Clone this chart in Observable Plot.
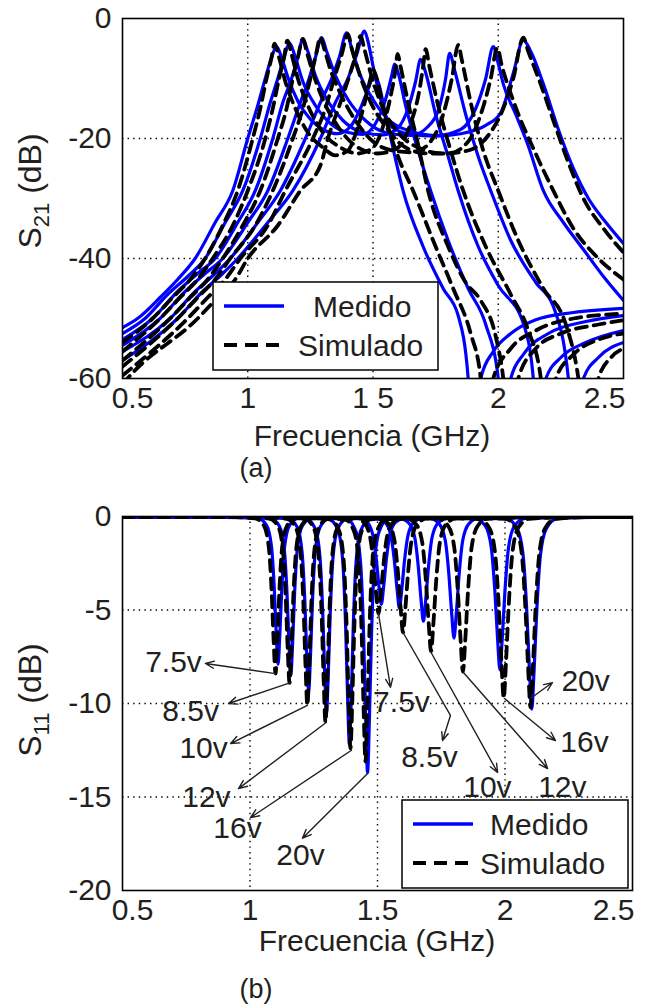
<!DOCTYPE html>
<html>
<head>
<meta charset="utf-8">
<script src="https://cdn.jsdelivr.net/npm/d3@7"></script>
<script src="https://cdn.jsdelivr.net/npm/@observablehq/plot@0.6"></script>
<style>
  html, body { margin: 0; padding: 0; background: #fff; }
  #wrap { position: relative; width: 655px; height: 1005px; background: #fff; overflow: hidden; }
  #wrap svg { position: absolute; left: 0; }
</style>
</head>
<body>
<div id="wrap"></div>
<script>
// ---------- ticks ----------
const FREQ_TICKS = [0.5, 1, 1.5, 2, 2.5];
const FREQ_LABELS_A = ["0.5", "1", "1 5", "2", "2.5"];
const FREQ_LABELS_B = ["0.5", "1", "1.5", "2", "2.5"];
const S21_TICKS = [-60, -40, -20, 0];
const S21_LABELS = ["-60", "-40", "-20", "0"];
const S11_TICKS = [-20, -15, -10, -5, 0];
const S11_LABELS = ["-20", "-15", "-10", "-5", "0"];
const VOLTAGES = ["7.5v", "8.5v", "10v", "12v", "16v", "20v"];

// ---------- (a) S21 medido ----------
const s21Medido75 = [[0.5,-51.5],[0.56,-50],[0.65,-46.5],[0.72,-43.5],[0.79,-40],[0.87,-34],[0.94,-28.7],[1.0,-20],[1.04,-14.5],[1.07,-10],[1.095,-6.5],[1.115,-4.7],[1.135,-6.5],[1.16,-9.8],[1.2,-13.8],[1.25,-16.8],[1.3,-18.5],[1.36,-19.2],[1.41,-18],[1.45,-15],[1.48,-11.8],[1.505,-9.5],[1.52,-10.5],[1.55,-16],[1.59,-23.5],[1.62,-28.7],[1.7,-38],[1.78,-45],[1.84,-49.5],[1.88,-60],[1.9,-75],[1.93,-60],[1.98,-55.5],[2.05,-52.5],[2.15,-50.2],[2.3,-49],[2.5,-48.3]];
const s21Medido85 = [[0.5,-52.5],[0.59,-50],[0.68,-46],[0.76,-43],[0.83,-40],[0.91,-34],[0.98,-28.7],[1.05,-20],[1.09,-14],[1.12,-10],[1.145,-6.5],[1.167,-4.1],[1.19,-6.5],[1.22,-10.5],[1.27,-14.5],[1.33,-17.5],[1.4,-19],[1.46,-19.3],[1.51,-17.5],[1.55,-13.5],[1.575,-9.5],[1.586,-7.6],[1.6,-9],[1.63,-14.5],[1.68,-22],[1.73,-28.7],[1.8,-37],[1.88,-45],[1.95,-51],[2.0,-60],[2.02,-75],[2.05,-60],[2.1,-56],[2.2,-52.5],[2.35,-50.5],[2.5,-49.5]];
const s21Medido10 = [[0.5,-53.5],[0.62,-50],[0.72,-45.5],[0.8,-42.5],[0.87,-40],[0.96,-34],[1.03,-28.7],[1.1,-20],[1.14,-14],[1.175,-10],[1.2,-6.5],[1.22,-3.4],[1.24,-5.5],[1.27,-9.5],[1.32,-13.8],[1.38,-17],[1.46,-19],[1.54,-19.4],[1.6,-18.2],[1.64,-15],[1.67,-10.5],[1.69,-6.8],[1.71,-9],[1.75,-16],[1.8,-23],[1.84,-28.7],[1.92,-38],[2.0,-44.5],[2.1,-50.8],[2.14,-60],[2.16,-75],[2.19,-60],[2.25,-56.5],[2.35,-54],[2.5,-52]];
const s21Medido12 = [[0.5,-54.5],[0.65,-50],[0.75,-45.5],[0.83,-42.5],[0.9,-40],[1.0,-34],[1.08,-28.7],[1.16,-20],[1.21,-14],[1.245,-10],[1.27,-6.5],[1.295,-3.2],[1.315,-5.5],[1.35,-9.5],[1.4,-13.5],[1.47,-17],[1.55,-19],[1.65,-19.5],[1.72,-18],[1.77,-14],[1.79,-10],[1.806,-5.8],[1.825,-8.5],[1.87,-16],[1.92,-23],[1.97,-28.7],[2.05,-37],[2.15,-44],[2.22,-48],[2.28,-60],[2.31,-75],[2.34,-60],[2.4,-56.5],[2.5,-54]];
const s21Medido16 = [[0.5,-55.5],[0.69,-50],[0.79,-45.5],[0.87,-42.5],[0.93,-40],[1.04,-34],[1.13,-28.7],[1.23,-20],[1.29,-14],[1.335,-10],[1.365,-6.5],[1.395,-2.4],[1.415,-5],[1.45,-9.5],[1.5,-13.5],[1.56,-16.8],[1.65,-18.8],[1.75,-19.5],[1.85,-18.5],[1.91,-15],[1.95,-10],[1.98,-4.7],[2.0,-7.5],[2.02,-10.9],[2.07,-16],[2.117,-20.9],[2.18,-28.7],[2.26,-34],[2.34,-38.5],[2.42,-43],[2.5,-47]];
const s21Medido20 = [[0.5,-57],[0.72,-50],[0.82,-45.5],[0.9,-42.5],[0.96,-40],[1.08,-34],[1.18,-28.7],[1.29,-20],[1.35,-14],[1.4,-10],[1.435,-6],[1.466,-2.1],[1.48,-3.8],[1.5,-7.9],[1.53,-13.4],[1.57,-17.9],[1.65,-19.3],[1.75,-19.6],[1.85,-19.2],[1.95,-17.8],[2.01,-15.7],[2.06,-9.1],[2.1,-3.6],[2.13,-5.5],[2.18,-10.9],[2.24,-18.5],[2.3,-25],[2.36,-30],[2.43,-34],[2.5,-37.5]];

// ---------- (a) S21 simulado ----------
const s21Simulado75 = [[0.5,-54],[0.62,-50],[0.7,-46.5],[0.77,-43.5],[0.83,-40],[0.9,-34.5],[0.96,-28.7],[1.02,-20],[1.05,-15],[1.075,-10],[1.095,-6.5],[1.107,-4.2],[1.125,-6.5],[1.15,-10.5],[1.19,-15],[1.24,-19],[1.3,-21.5],[1.35,-22.8],[1.4,-22],[1.44,-18],[1.47,-13.5],[1.49,-10],[1.5,-8.5],[1.515,-10],[1.55,-16.5],[1.6,-23],[1.66,-28.7],[1.74,-37],[1.82,-45],[1.89,-52.5],[1.93,-60],[1.95,-75],[1.98,-60],[2.05,-55],[2.15,-52],[2.3,-50],[2.5,-49.2]];
const s21Simulado85 = [[0.5,-55.5],[0.65,-50],[0.73,-46.5],[0.8,-43.5],[0.86,-40],[0.94,-34.5],[1.0,-28.7],[1.07,-20],[1.1,-15],[1.125,-10],[1.145,-6.5],[1.158,-3.7],[1.175,-6],[1.2,-10],[1.24,-14.5],[1.3,-19],[1.37,-21.5],[1.44,-22.5],[1.5,-21.5],[1.54,-18],[1.57,-13],[1.59,-8.5],[1.598,-5.9],[1.61,-8],[1.64,-14],[1.68,-21],[1.72,-28.7],[1.8,-38],[1.87,-44],[1.93,-47],[1.99,-53],[2.02,-60],[2.05,-75],[2.08,-60],[2.15,-55],[2.25,-52.5],[2.4,-51],[2.5,-50.3]];
const s21Simulado10 = [[0.5,-57],[0.69,-50],[0.77,-46.5],[0.84,-43.5],[0.9,-40],[0.98,-34.5],[1.05,-28.7],[1.12,-20],[1.155,-15],[1.18,-10],[1.2,-6.5],[1.22,-3.4],[1.235,-5.5],[1.26,-9],[1.3,-13.5],[1.36,-18],[1.44,-21.5],[1.52,-22.5],[1.6,-21.5],[1.65,-17.5],[1.685,-12],[1.7,-8],[1.71,-5.1],[1.725,-8],[1.76,-14.5],[1.81,-22],[1.86,-28.7],[1.95,-38],[2.05,-46],[2.12,-52],[2.17,-60],[2.2,-75],[2.23,-60],[2.3,-56],[2.4,-53.5],[2.5,-52.5]];
const s21Simulado12 = [[0.5,-58],[0.72,-50],[0.8,-46.5],[0.87,-43.5],[0.93,-40],[1.03,-34.5],[1.1,-28.7],[1.18,-20],[1.22,-15],[1.25,-10],[1.27,-6.5],[1.29,-3.2],[1.305,-5],[1.33,-8.5],[1.37,-12.5],[1.43,-17],[1.5,-20.5],[1.58,-22],[1.66,-22.3],[1.73,-20.5],[1.78,-16],[1.815,-10],[1.84,-4.4],[1.855,-7],[1.89,-14],[1.94,-22],[2.0,-28.7],[2.08,-37],[2.18,-45],[2.27,-51],[2.32,-60],[2.36,-75],[2.4,-60],[2.45,-56.5],[2.5,-55]];
const s21Simulado16 = [[0.5,-59.5],[0.76,-50],[0.84,-46.5],[0.91,-43.5],[0.97,-40],[1.08,-34.5],[1.15,-28.7],[1.26,-20],[1.31,-15],[1.345,-10],[1.375,-6],[1.4,-2.6],[1.415,-5],[1.44,-8.5],[1.48,-13],[1.55,-18],[1.63,-21.5],[1.72,-22.5],[1.8,-22.5],[1.88,-20.5],[1.93,-16],[1.97,-10],[1.996,-4.9],[2.015,-8],[2.06,-13.7],[2.157,-23.2],[2.22,-28.7],[2.3,-35],[2.4,-40],[2.5,-43.5]];
const s21Simulado20 = [[0.5,-61],[0.52,-60],[0.8,-50],[0.88,-46.5],[0.95,-43.5],[1.0,-40],[1.12,-34.5],[1.21,-28.7],[1.29,-24.5],[1.32,-20],[1.37,-14],[1.41,-9],[1.435,-5.5],[1.45,-2.9],[1.465,-5],[1.49,-9],[1.53,-14],[1.6,-19],[1.68,-21.5],[1.78,-22.5],[1.88,-22],[1.96,-19.5],[2.02,-15],[2.06,-10],[2.1,-3.2],[2.12,-5.5],[2.17,-11],[2.22,-17],[2.28,-24],[2.34,-30],[2.42,-35],[2.5,-39]];

// ---------- (b) S11 medido ----------
const s11Medido75 = [[0.5,-0.05],[0.9,-0.05],[1.03,-0.09],[1.065,-0.47],[1.084,-1.58],[1.095,-3.79],[1.103,-6.32],[1.11,-7.9],[1.117,-6.32],[1.125,-3.79],[1.136,-1.58],[1.155,-0.47],[1.19,-0.09],[1.3,-0.06],[1.415,-0.06],[1.457,-0.28],[1.481,-0.94],[1.495,-2.26],[1.506,-3.76],[1.515,-4.7],[1.524,-3.76],[1.535,-2.26],[1.549,-0.94],[1.573,-0.28],[1.615,-0.06],[2.0,-0.05],[2.5,-0.05]];
const s11Medido85 = [[0.5,-0.05],[0.95,-0.05],[1.08,-0.1],[1.115,-0.51],[1.134,-1.7],[1.145,-4.08],[1.153,-6.8],[1.16,-8.5],[1.167,-6.8],[1.175,-4.08],[1.186,-1.7],[1.205,-0.51],[1.24,-0.1],[1.36,-0.06],[1.486,-0.06],[1.528,-0.29],[1.552,-0.98],[1.566,-2.35],[1.577,-3.92],[1.586,-4.9],[1.595,-3.92],[1.606,-2.35],[1.62,-0.98],[1.644,-0.29],[1.686,-0.06],[2.1,-0.05],[2.5,-0.05]];
const s11Medido10 = [[0.5,-0.05],[1.0,-0.05],[1.15,-0.11],[1.185,-0.56],[1.204,-1.88],[1.215,-4.51],[1.223,-7.52],[1.23,-9.4],[1.237,-7.52],[1.245,-4.51],[1.256,-1.88],[1.275,-0.56],[1.31,-0.11],[1.45,-0.07],[1.58,-0.07],[1.622,-0.34],[1.646,-1.12],[1.66,-2.69],[1.671,-4.48],[1.68,-5.6],[1.689,-4.48],[1.7,-2.69],[1.714,-1.12],[1.738,-0.34],[1.78,-0.07],[2.2,-0.05],[2.5,-0.05]];
const s11Medido12 = [[0.5,-0.05],[1.05,-0.05],[1.22,-0.13],[1.255,-0.63],[1.274,-2.1],[1.285,-5.04],[1.293,-8.4],[1.3,-10.5],[1.307,-8.4],[1.315,-5.04],[1.326,-2.1],[1.345,-0.63],[1.38,-0.13],[1.54,-0.08],[1.7,-0.08],[1.742,-0.39],[1.766,-1.3],[1.78,-3.12],[1.791,-5.2],[1.8,-6.5],[1.809,-5.2],[1.82,-3.12],[1.834,-1.3],[1.858,-0.39],[1.9,-0.08],[2.25,-0.05],[2.5,-0.05]];
const s11Medido16 = [[0.5,-0.05],[1.15,-0.05],[1.31,-0.15],[1.345,-0.73],[1.364,-2.44],[1.375,-5.86],[1.383,-9.76],[1.39,-12.2],[1.397,-9.76],[1.405,-5.86],[1.416,-2.44],[1.435,-0.73],[1.47,-0.15],[1.68,-0.1],[1.88,-0.1],[1.922,-0.49],[1.946,-1.64],[1.96,-3.94],[1.971,-6.56],[1.98,-8.2],[1.989,-6.56],[2.0,-3.94],[2.014,-1.64],[2.038,-0.49],[2.08,-0.1],[2.3,-0.05],[2.5,-0.05]];
const s11Medido20 = [[0.5,-0.05],[1.22,-0.05],[1.381,-0.16],[1.416,-0.82],[1.435,-2.74],[1.446,-6.58],[1.454,-10.96],[1.461,-13.7],[1.468,-10.96],[1.476,-6.58],[1.487,-2.74],[1.506,-0.82],[1.541,-0.16],[1.78,-0.1],[2.005,-0.12],[2.047,-0.62],[2.071,-2.06],[2.085,-4.94],[2.096,-8.24],[2.105,-10.3],[2.114,-8.24],[2.125,-4.94],[2.139,-2.06],[2.163,-0.62],[2.205,-0.12],[2.35,-0.05],[2.5,-0.05]];

// ---------- (b) S11 simulado ----------
const s11Simulado75 = [[0.5,0],[0.9,-0.02],[1.02,-0.1],[1.055,-0.5],[1.074,-1.68],[1.085,-4.03],[1.093,-6.72],[1.1,-8.4],[1.107,-6.72],[1.115,-4.03],[1.126,-1.68],[1.145,-0.5],[1.18,-0.1],[1.3,-0.06],[1.404,-0.06],[1.446,-0.31],[1.47,-1.04],[1.484,-2.5],[1.495,-4.16],[1.504,-5.2],[1.513,-4.16],[1.524,-2.5],[1.538,-1.04],[1.562,-0.31],[1.604,-0.06],[2.0,-0.02],[2.5,0]];
const s11Simulado85 = [[0.5,0],[0.95,-0.02],[1.075,-0.11],[1.11,-0.53],[1.129,-1.78],[1.14,-4.27],[1.148,-7.12],[1.155,-8.9],[1.162,-7.12],[1.17,-4.27],[1.181,-1.78],[1.2,-0.53],[1.235,-0.11],[1.37,-0.07],[1.5,-0.07],[1.542,-0.37],[1.566,-1.24],[1.58,-2.98],[1.591,-4.96],[1.6,-6.2],[1.609,-4.96],[1.62,-2.98],[1.634,-1.24],[1.658,-0.37],[1.7,-0.07],[2.1,-0.02],[2.5,0]];
const s11Simulado10 = [[0.5,0],[1.0,-0.02],[1.145,-0.12],[1.18,-0.61],[1.199,-2.02],[1.21,-4.85],[1.218,-8.08],[1.225,-10.1],[1.232,-8.08],[1.24,-4.85],[1.251,-2.02],[1.27,-0.61],[1.305,-0.12],[1.46,-0.08],[1.61,-0.09],[1.652,-0.43],[1.676,-1.44],[1.69,-3.46],[1.701,-5.76],[1.71,-7.2],[1.719,-5.76],[1.73,-3.46],[1.744,-1.44],[1.768,-0.43],[1.81,-0.09],[2.2,-0.02],[2.5,0]];
const s11Simulado12 = [[0.5,0],[1.05,-0.02],[1.216,-0.13],[1.251,-0.66],[1.27,-2.2],[1.281,-5.28],[1.289,-8.8],[1.296,-11.0],[1.303,-8.8],[1.311,-5.28],[1.322,-2.2],[1.341,-0.66],[1.376,-0.13],[1.56,-0.09],[1.735,-0.1],[1.777,-0.5],[1.801,-1.66],[1.815,-3.98],[1.826,-6.64],[1.835,-8.3],[1.844,-6.64],[1.855,-3.98],[1.869,-1.66],[1.893,-0.5],[1.935,-0.1],[2.25,-0.02],[2.5,0]];
const s11Simulado16 = [[0.5,0],[1.15,-0.02],[1.314,-0.15],[1.349,-0.74],[1.368,-2.48],[1.379,-5.95],[1.387,-9.92],[1.394,-12.4],[1.401,-9.92],[1.409,-5.95],[1.42,-2.48],[1.439,-0.74],[1.474,-0.15],[1.68,-0.1],[1.895,-0.12],[1.937,-0.58],[1.961,-1.94],[1.975,-4.66],[1.986,-7.76],[1.995,-9.7],[2.004,-7.76],[2.015,-4.66],[2.029,-1.94],[2.053,-0.58],[2.095,-0.12],[2.3,-0.02],[2.5,0]];
const s11Simulado20 = [[0.5,0],[1.2,-0.02],[1.373,-0.16],[1.408,-0.79],[1.427,-2.62],[1.438,-6.29],[1.446,-10.48],[1.453,-13.1],[1.46,-10.48],[1.468,-6.29],[1.479,-2.62],[1.498,-0.79],[1.533,-0.16],[1.77,-0.1],[2.0,-0.12],[2.042,-0.61],[2.066,-2.04],[2.08,-4.9],[2.091,-8.16],[2.1,-10.2],[2.109,-8.16],[2.12,-4.9],[2.134,-2.04],[2.158,-0.61],[2.2,-0.12],[2.35,-0.02],[2.5,0]];

// ---------- (b) annotations: label, label pos, arrow tail (dip), arrow head ----------
const annText  = ["7.5v","8.5v","10v","12v","16v","20v","7.5v","8.5v","10v","12v","16v","20v"];
const annF     = [0.70, 0.767, 0.818, 0.829, 0.951, 1.198, 1.594, 1.704, 1.931, 2.225, 2.312, 2.316];
const annDb    = [-7.8, -10.4, -12.4, -15.0, -16.7, -18.1, -9.95, -12.9, -14.5, -14.5, -12.1, -8.8];
const tailF    = [1.10, 1.159, 1.225, 1.30, 1.398, 1.461, 1.504, 1.786, 1.708, 1.837, 1.998, 2.10];
const tailDb   = [-8.4, -8.88, -10.1, -11.0, -12.5, -13.74, -5.19, -10.64, -7.22, -8.34, -9.73, -9.73];
const headF    = [0.825, 0.916, 0.924, 0.955, 1.002, 1.206, 1.551, 1.755, 1.971, 2.167, 2.198, 2.186];
const headDb   = [-7.86, -10.0, -12.14, -14.55, -16.1, -17.2, -9.14, -11.98, -13.69, -13.48, -11.98, -8.88];
const leaderF  = [1.598, 1.786];
const leaderDb = [-6.15, -10.64];

// ---------- build tables ----------
function rows(list) {
  return list.flatMap((pts, k) => pts.map(([f, db]) => ({ f, db, v: VOLTAGES[k] })));
}
const s21Med = rows([s21Medido75, s21Medido85, s21Medido10, s21Medido12, s21Medido16, s21Medido20]);
const s21Sim = rows([s21Simulado75, s21Simulado85, s21Simulado10, s21Simulado12, s21Simulado16, s21Simulado20]);
const s11Med = rows([s11Medido75, s11Medido85, s11Medido10, s11Medido12, s11Medido16, s11Medido20]);
const s11Sim = rows([s11Simulado75, s11Simulado85, s11Simulado10, s11Simulado12, s11Simulado16, s11Simulado20]);
const ann = annText.map((t, i) => ({ t, f: annF[i], db: annDb[i], tf: tailF[i], tdb: tailDb[i], hf: headF[i], hdb: headDb[i] }));

const FONT = "'Liberation Sans', Arial, Helvetica, sans-serif";
const INK = "#231f20";
const BLUE = "#0000ff";
const DASH = "11,7";
const GRID = { stroke: "#000", strokeOpacity: 1, strokeWidth: 1.4, strokeDasharray: "1.4,4.2" };
const TICK_PAD_X = 8;

function lookup(ticks, labels) { return d => labels[ticks.indexOf(d)] ?? ""; }

function panel({ top, height, mt, mb, mr, yDomain, yTicks, yLabels, xLabels, med, sim, extra }) {
  const fmt = lookup(FREQ_TICKS, xLabels);
  const edgeLabel = (tick, anchor, dx) => Plot.text([tick], {
    x: d => d, text: fmt, frameAnchor: "bottom", lineAnchor: "top", textAnchor: anchor,
    dy: TICK_PAD_X, dx, fontSize: 30, fill: INK, fontFamily: FONT
  });
  const svg = Plot.plot({
    width: 655, height, marginLeft: 122, marginRight: mr, marginTop: mt, marginBottom: mb,
    style: { fontFamily: FONT, fontSize: "30px", color: INK, background: "transparent", overflow: "visible" },
    x: { domain: [0.5, 2.5], ticks: FREQ_TICKS.slice(1, -1), tickFormat: fmt, tickSize: 0, tickPadding: TICK_PAD_X, label: null },
    y: { domain: yDomain, ticks: yTicks, tickFormat: lookup(yTicks, yLabels), tickSize: 0, tickPadding: 11, label: null },
    marks: [
      Plot.ruleX(FREQ_TICKS.slice(1, -1), GRID),
      Plot.ruleY(yTicks.slice(1, -1), GRID),
      Plot.line(med, { x: "f", y: "db", z: "v", stroke: BLUE, strokeWidth: 3.2, curve: "monotone-x", clip: true }),
      Plot.line(sim, { x: "f", y: "db", z: "v", stroke: "#000", strokeWidth: 3.8, strokeDasharray: DASH, curve: "monotone-x", clip: true }),
      ...(extra || []),
      Plot.frame({ stroke: "#000", strokeWidth: 1.6 }),
      edgeLabel(FREQ_TICKS[0], "middle", 10),
      edgeLabel(FREQ_TICKS[FREQ_TICKS.length - 1], "end", 2)
    ]
  });
  svg.style.top = top + "px";
  return svg;
}

const wrap = document.getElementById("wrap");

// Panel (a)
const svgA = panel({
  top: 0, height: 480, mt: 18, mb: 102, mr: 32,
  yDomain: [-60, 0], yTicks: S21_TICKS, yLabels: S21_LABELS, xLabels: FREQ_LABELS_A,
  med: s21Med, sim: s21Sim
});
wrap.appendChild(svgA);

// Panel (b)
const svgB = panel({
  top: 480, height: 525, mt: 36, mb: 115, mr: 23,
  yDomain: [-20, 0], yTicks: S11_TICKS, yLabels: S11_LABELS, xLabels: FREQ_LABELS_B,
  med: s11Med, sim: s11Sim,
  extra: [
    Plot.link([0], { x1: () => leaderF[0], y1: () => leaderDb[0], x2: () => leaderF[1], y2: () => leaderDb[1], stroke: INK, strokeWidth: 1.4 }),
    Plot.arrow(ann, { x1: "tf", y1: "tdb", x2: "hf", y2: "hdb", stroke: INK, strokeWidth: 1.4, headLength: 10, headAngle: 45 }),
    Plot.text(ann, { x: "f", y: "db", text: "t", fontSize: 30, fill: INK, fontFamily: FONT })
  ]
});
wrap.appendChild(svgB);

// ---------- decorations (titles, legends) ----------
function decorate(svgEl, o) {
  const svg = d3.select(svgEl);
  // x label
  svg.append("text").attr("x", o.xlx).attr("y", o.xly).attr("text-anchor", "middle")
    .attr("font-family", FONT).attr("font-size", 30).attr("fill", INK).text("Frecuencia (GHz)");
  // caption
  svg.append("text").attr("x", 256).attr("y", o.capy).attr("text-anchor", "middle")
    .attr("font-family", FONT).attr("font-size", 27).attr("fill", INK).text(o.cap);
  // y label with subscript
  const t = svg.append("text").attr("transform", `translate(41,${o.ylc}) rotate(-90)`).attr("text-anchor", "middle")
    .attr("font-family", FONT).attr("font-size", 32).attr("fill", INK);
  t.append("tspan").text("S");
  t.append("tspan").attr("font-size", 22).attr("dy", 8).text(o.sub);
  t.append("tspan").attr("dy", -8).text("\u00a0(dB)");
  // legend
  const g = svg.append("g");
  g.append("rect").attr("x", o.lx).attr("y", o.ly).attr("width", o.lw).attr("height", o.lh)
    .attr("fill", "#fff").attr("stroke", "#000").attr("stroke-width", 1.5);
  g.append("line").attr("x1", o.lx + 11).attr("x2", o.lx + 71).attr("y1", o.ly + 24).attr("y2", o.ly + 24)
    .attr("stroke", BLUE).attr("stroke-width", 3.5);
  g.append("line").attr("x1", o.lx + 11).attr("x2", o.lx + 71).attr("y1", o.ly + 63).attr("y2", o.ly + 63)
    .attr("stroke", "#000").attr("stroke-width", 4).attr("stroke-dasharray", "13,8");
  g.append("text").attr("x", o.mx).attr("y", o.ly + 35).attr("text-anchor", "start")
    .attr("font-family", FONT).attr("font-size", 30).attr("fill", INK).text("Medido");
  g.append("text").attr("x", o.sx).attr("y", o.ly + 74).attr("text-anchor", "start")
    .attr("font-family", FONT).attr("font-size", 30).attr("fill", INK).text("Simulado");
}
decorate(svgA, { xlx: 372, xly: 446, capy: 477, cap: "(a)", ylc: 191, sub: "21",
  lx: 213, ly: 282, lw: 225, lh: 88, mx: 313, sx: 298 });
decorate(svgB, { xlx: 377, xly: 471, capy: 518, cap: "(b)", ylc: 220, sub: "11",
  lx: 402, ly: 320, lw: 226, lh: 88, mx: 490, sx: 480 });
</script>
</body>
</html>
